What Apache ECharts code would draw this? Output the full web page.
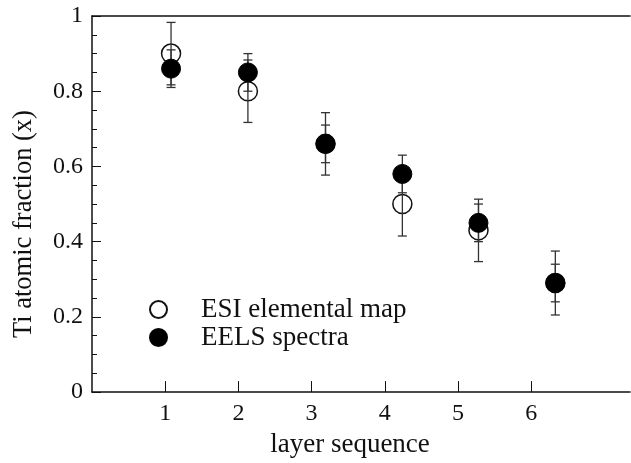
<!DOCTYPE html>
<html>
<head>
<meta charset="utf-8">
<script src="https://cdn.jsdelivr.net/npm/echarts@6/dist/echarts.min.js"></script>
<style>html,body{margin:0;padding:0;background:#fff}#c{width:631px;height:463px}</style>
</head>
<body>
<div id="c"></div>
<script>
// layer positions as plotted
var layerX = [1.08, 2.13, 3.19, 4.24, 5.28, 6.33];
var xTickValues = [1, 2, 3, 4, 5, 6];
var esiY = [0.90, 0.80, 0.66, 0.50, 0.43, 0.29];
var esiErr = [0.083, 0.083, 0.083, 0.085, 0.083, 0.085];
var eelsY = [0.86, 0.85, 0.66, 0.58, 0.45, 0.29];
var eelsErr = [0.05, 0.05, 0.05, 0.05, 0.05, 0.05];

var FONT = '"Liberation Serif", "DejaVu Serif", serif';

function pts(xs, ys) { return xs.map(function (x, i) { return [x, ys[i]]; }); }
function errs(xs, ys, es) { return xs.map(function (x, i) { return [x, ys[i] - es[i], ys[i] + es[i]]; }); }

function errRender(params, api) {
  var x = api.value(0);
  var lo = api.coord([x, api.value(1)]);
  var hi = api.coord([x, api.value(2)]);
  var hw = 4.5;
  var st = { stroke: '#333', lineWidth: 1.3 };
  return {
    type: 'group',
    children: [
      { type: 'line', shape: { x1: lo[0], y1: lo[1], x2: hi[0], y2: hi[1] }, style: st },
      { type: 'line', shape: { x1: lo[0] - hw, y1: lo[1], x2: lo[0] + hw, y2: lo[1] }, style: st },
      { type: 'line', shape: { x1: hi[0] - hw, y1: hi[1], x2: hi[0] + hw, y2: hi[1] }, style: st }
    ]
  };
}

var chart = echarts.init(document.getElementById('c'), null, { renderer: 'canvas' });
chart.setOption({
  animation: false,
  backgroundColor: '#fff',
  grid: { left: 92, right: 1, top: 16, bottom: 69 },
  legend: {
    orient: 'vertical',
    left: 144, top: 291,
    itemWidth: 17, itemHeight: 17, itemGap: 1,
    textStyle: { fontFamily: FONT, fontSize: 27, color: '#111', padding: [0, 0, 0, 29] },
    data: [
      { name: 'ESI elemental map', icon: 'circle' },
      { name: 'EELS spectra', icon: 'circle' }
    ]
  },
  xAxis: [{
    type: 'value', min: 0, max: 7.35, position: 'bottom',
    name: 'layer sequence', nameLocation: 'middle', nameGap: 23,
    nameTextStyle: { fontFamily: FONT, fontSize: 27, color: '#111', padding: [0, 22, 0, 0] },
    axisLine: { show: true, lineStyle: { color: '#111', width: 1.5 } },
    axisTick: { show: true, inside: true, length: 11, customValues: xTickValues, lineStyle: { color: '#111', width: 1 } },
    axisLabel: { customValues: xTickValues, fontFamily: FONT, fontSize: 24, color: '#111', margin: 10 },
    splitLine: { show: false }
  }, {
    type: 'value', min: 0, max: 7.35, position: 'top',
    axisLine: { show: true, lineStyle: { color: '#111', width: 1.5 } },
    axisTick: { show: false }, axisLabel: { show: false }, splitLine: { show: false }
  }],
  yAxis: {
    type: 'value', min: 0, max: 1, interval: 0.2,
    name: 'Ti atomic fraction (x)', nameLocation: 'middle', nameGap: 54,
    nameTextStyle: { fontFamily: FONT, fontSize: 26.5, color: '#111', padding: [0, 40, 0, 0] },
    axisLine: { show: true, lineStyle: { color: '#111', width: 1.5 } },
    axisTick: { show: true, inside: true, length: 9, lineStyle: { color: '#111', width: 1 } },
    minorTick: { show: true, splitNumber: 4, length: 5, lineStyle: { color: '#111', width: 1 } },
    axisLabel: { fontFamily: FONT, fontSize: 24, color: '#111', margin: 9 },
    splitLine: { show: false }
  },
  series: [
    {
      name: 'ESI elemental map', type: 'scatter', symbol: 'circle', symbolSize: 19, z: 2,
      itemStyle: { color: '#fff', borderColor: '#111', borderWidth: 1.5, opacity: 1 },
      data: pts(layerX, esiY)
    },
    {
      name: 'esiErr', type: 'custom', z: 3, renderItem: errRender,
      encode: { x: 0, y: [1, 2] }, data: errs(layerX, esiY, esiErr)
    },
    {
      name: 'eelsErr', type: 'custom', z: 3, renderItem: errRender,
      encode: { x: 0, y: [1, 2] }, data: errs(layerX, eelsY, eelsErr)
    },
    {
      name: 'EELS spectra', type: 'scatter', symbol: 'circle', symbolSize: 19, z: 4,
      itemStyle: { color: '#000', borderColor: '#000', borderWidth: 1, opacity: 1 },
      data: pts(layerX, eelsY)
    }
  ]
});
</script>
</body>
</html>
